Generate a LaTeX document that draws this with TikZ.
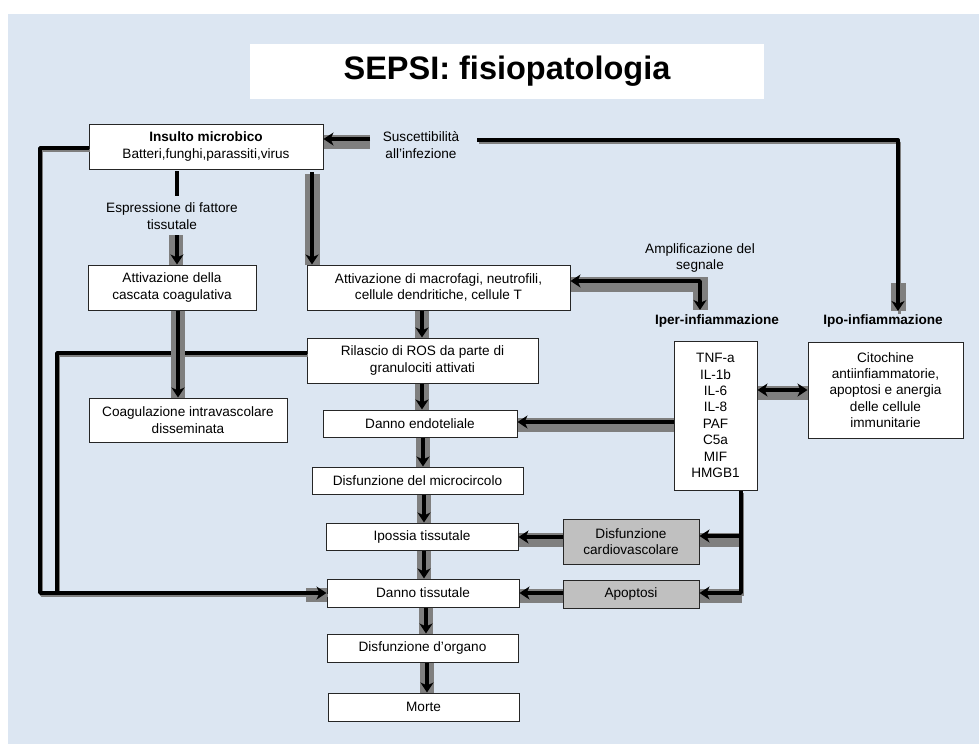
\documentclass[tikz,border=0pt]{standalone}
\usepackage{fontspec}
\setmainfont{Liberation Sans}
\usetikzlibrary{arrows.meta,calc}
\definecolor{bgblue}{HTML}{DCE6F2}
\definecolor{bandgray}{HTML}{7F7F7F}
\definecolor{boxgray}{HTML}{C0C0C0}
\newcommand{\myvconn}[3]{%
  \draw[band] (#1,0 |- #2.south) -- (#1,0 |- #3.north);
  \draw[arr] (#1,0 |- #2.south) -- (#1,0 |- #3.north);}
\begin{document}
\begin{tikzpicture}[x=1pt,y=-1pt,
  every node/.style={font=\fontsize{13.6}{16.4}\selectfont, align=center, inner sep=0pt},
  box/.style={draw=black!85, line width=1pt, fill=white},
  gbox/.style={box, fill=boxgray},
  lbl/.style={font=\bfseries\fontsize{13.6}{16}\selectfont},
  band/.style={draw=bandgray, line width=14pt, line cap=butt},
  arr/.style={draw=black, line width=3.8pt, line join=round, -{Stealth[length=10pt,width=13pt,inset=3pt]}},
  arrtwo/.style={draw=black, line width=3.8pt, {Stealth[length=10pt,width=13pt,inset=3pt]}-{Stealth[length=10pt,width=13pt,inset=3pt]}},
  plain/.style={draw=black, line width=3.8pt, line join=round},
  sh/.style={draw=bandgray, line width=3.5pt, line join=round, transform canvas={shift={(1.5pt,-2.5pt)}}},
]
\useasboundingbox (0,0) rectangle (979,744);
\fill[white] (0,0) rectangle (979,744);
\fill[bgblue] (8,14) rectangle (979,744);

% title
\node[fill=white, minimum width=514pt, minimum height=55pt, font=\bfseries\fontsize{32.5}{38}\selectfont] (title) at (507,71) {SEPSI: fisiopatologia};

% nodes
\node[box, minimum width=234pt, minimum height=45pt] (insulto) at (206,146.5) {\textbf{Insulto microbico}\\Batteri,funghi,parassiti,virus};
\node (susc) at (421,145) {Suscettibilità\\all’infezione};
\node (esp) at (172,216) {Espressione di fattore\\tissutale};
\node[box, minimum width=168pt, minimum height=45pt] (cascata) at (172,287.5) {Attivazione della\\cascata coagulativa};
\node[box, minimum width=263pt, minimum height=45pt] (macro) at (438.5,287.5) {Attivazione di macrofagi, neutrofili,\\cellule dendritiche, cellule T};
\node[box, minimum width=198pt, minimum height=44pt] (coag) at (188,420) {Coagulazione intravascolare\\disseminata};
\node[box, minimum width=231pt, minimum height=45pt] (rilascio) at (422.5,360.5) {Rilascio di ROS da parte di\\granulociti attivati};
\node[box, minimum width=194pt, minimum height=27pt] (endo) at (420,423.5) {Danno endoteliale};
\node[box, minimum width=211pt, minimum height=27pt] (micro) at (417.5,480.5) {Disfunzione del microcircolo};
\node[box, minimum width=192pt, minimum height=27pt] (ipossia) at (422,536.5) {Ipossia tissutale};
\node[box, minimum width=192pt, minimum height=28pt] (dannot) at (423,593) {Danno tissutale};
\node[box, minimum width=191pt, minimum height=28pt] (organo) at (422.5,648) {Disfunzione d’organo};
\node[box, minimum width=191pt, minimum height=28pt] (morte) at (423.5,707) {Morte};
\node (ampl) at (700,258) {Amplificazione del\\segnale};
\node[lbl] (iper) at (717,321) {Iper-infiammazione};
\node[lbl] (ipo) at (883,321) {Ipo-infiammazione};
\node[box, minimum width=83pt, minimum height=149pt] (tnf) at (715.5,415.5) {TNF-a\\IL-1b\\IL-6\\IL-8\\PAF\\C5a\\MIF\\HMGB1};
\node[box, minimum width=155pt, minimum height=96pt] (cito) at (885.5,390) {Citochine\\antiinfiammatorie,\\apoptosi e anergia\\delle cellule\\immunitarie};
\node[gbox, minimum width=136pt, minimum height=45pt] (cardio) at (631,541.5) {Disfunzione\\cardiovascolare};
\node[gbox, minimum width=136pt, minimum height=28pt] (apopt) at (631,594) {Apoptosi};

% coordinates
\coordinate (s1) at (370,139);
\coordinate (s2) at (477,140);
\coordinate (c2) at (898,140);
\coordinate (c2e) at (898,311);
\coordinate (a1) at (700,281);
\coordinate (a1e) at (700,310);
\coordinate (t1) at (741,536);
\coordinate (t2) at (741,593);
\coordinate (L1) at (40,148);
\coordinate (L2) at (57,353);

% thin shadows of long connectors
\draw[sh] (s2) -- (c2) -- (c2e);
\draw[sh] (insulto.west |- L1) -- (L1) -- (L1 |- 0,593) -- (dannot.west |- 0,593);
\draw[sh] (rilascio.west |- L2) -- (L2) -- (L2 |- 0,593);
\draw[sh] (tnf.south -| t1) -- (t2);

% bands
\draw[band] (insulto.east |- 0,142) -- (s1 |- 0,142);
\draw[band, line width=15pt] (898.5,283) -- (898.5,0 |- c2e);
\draw[band] (176,235) -- (176,0 |- cascata.north);
\draw[band, line width=15pt] (312.5,174) -- (312.5,0 |- macro.north);
\draw[band, line width=15pt] (macro.east |- 0,284.5) -- (700,284.5) -- (700,0 |- a1e);
\draw[band] (tnf.west |- 0,424.5) -- (endo.east |- 0,424.5);
\draw[band] (tnf.east |- 0,392.5) -- (cito.west |- 0,392.5);
\draw[band] (cardio.east |- 0,540) -- (743,540);
\draw[band] (apopt.east |- 0,595.5) -- (742,595.5);
\draw[band] (cardio.west |- 0,540) -- (ipossia.east |- 0,540);
\draw[band] (apopt.west |- 0,595.5) -- (dannot.east |- 0,595.5);
\draw[band] (306,595) -- (dannot.west |- 0,595);

% loops
\draw[plain] (rilascio.west |- L2) -- (L2) -- (L2 |- 0,593);
\draw[arr] (insulto.west |- L1) -- (L1) -- (L1 |- 0,593) -- (dannot.west |- 0,593);

% arrows
\draw[arr] (s1) -- (insulto.east |- s1);
\draw[arr] (s2) -- (c2) -- (c2e);
\draw[plain] (177,171) -- (177,196);
\draw[arr] (177,235) -- (177,0 |- cascata.north);
\draw[arr] (312,172) -- (312,0 |- macro.north);
\myvconn{178}{cascata}{coag}
\myvconn{422}{macro}{rilascio}
\myvconn{422}{rilascio}{endo}
\myvconn{423}{endo}{micro}
\myvconn{424}{micro}{ipossia}
\myvconn{424}{ipossia}{dannot}
\myvconn{426}{dannot}{organo}
\myvconn{427}{organo}{morte}
\draw[arrtwo, line join=round] (macro.east |- a1) -- (a1) -- (a1e);
\draw[arr] (tnf.west |- 0,422) -- (endo.east |- 0,422);
\draw[arrtwo] (tnf.east |- 0,390) -- (cito.west |- 0,390);
\draw[arr] (tnf.south -| t1) -- (t2) -- (apopt.east |- t2);
\draw[arr] (t1) -- (cardio.east |- t1);
\draw[arr] (cardio.west |- 0,537) -- (ipossia.east |- 0,537);
\draw[arr] (apopt.west |- 0,593) -- (dannot.east |- 0,593);
\end{tikzpicture}
\end{document}
